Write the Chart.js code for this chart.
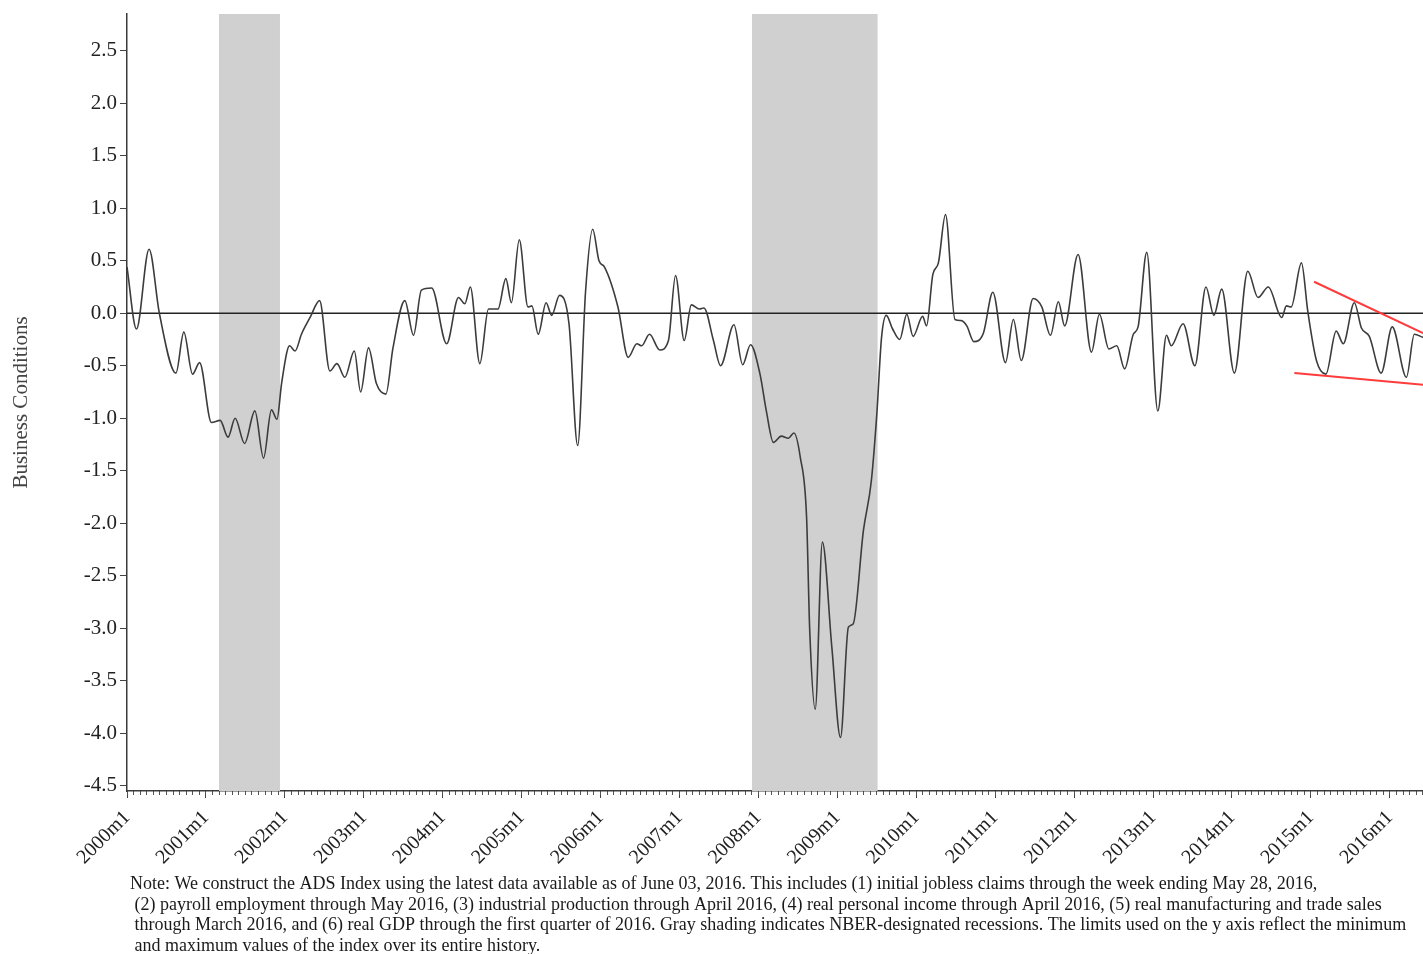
<!DOCTYPE html>
<html>
<head>
<meta charset="utf-8">
<title>ADS Business Conditions Index</title>
<script src="https://cdn.jsdelivr.net/npm/chart.js@4.4.1/dist/chart.umd.min.js"></script>
<style>
  html, body { margin: 0; padding: 0; background: #ffffff; }
  canvas { display: block; }
</style>
</head>
<body>
<canvas id="adsChart" width="1423" height="954"></canvas>
<script>
// ADS index readings (fractional year, index value)
const adsDates = [
  2000.00, 2000.12, 2000.28, 2000.41, 2000.62, 2000.72, 2000.83, 2000.92,
  2001.07, 2001.18, 2001.28, 2001.37, 2001.49, 2001.62, 2001.73, 2001.83, 2001.90, 2001.96,
  2002.06, 2002.13, 2002.21, 2002.32, 2002.44, 2002.57, 2002.66, 2002.76, 2002.88, 2002.96,
  2003.06, 2003.16, 2003.28, 2003.37, 2003.52, 2003.63, 2003.73, 2003.86,
  2004.05, 2004.20, 2004.28, 2004.35, 2004.47, 2004.58, 2004.70, 2004.80, 2004.87, 2004.97,
  2005.08, 2005.13, 2005.21, 2005.31, 2005.38, 2005.48, 2005.60, 2005.71, 2005.81, 2005.90, 2005.98,
  2006.05, 2006.22, 2006.35, 2006.46, 2006.52, 2006.62, 2006.75, 2006.86, 2006.95,
  2007.06, 2007.15, 2007.25, 2007.31, 2007.43, 2007.52, 2007.69, 2007.80, 2007.90,
  2008.02, 2008.10, 2008.19, 2008.29, 2008.38, 2008.45, 2008.53, 2008.61, 2008.65, 2008.72, 2008.81, 2008.93,
  2009.04, 2009.14, 2009.20, 2009.33, 2009.43, 2009.50, 2009.56, 2009.62, 2009.70, 2009.79, 2009.88, 2009.96,
  2010.08, 2010.13, 2010.21, 2010.28, 2010.37, 2010.49, 2010.57, 2010.64, 2010.73, 2010.85, 2010.97,
  2011.13, 2011.23, 2011.33, 2011.48, 2011.59, 2011.70, 2011.80, 2011.88,
  2012.05, 2012.22, 2012.32, 2012.44, 2012.54, 2012.64, 2012.75, 2012.81, 2012.92,
  2013.06, 2013.17, 2013.23, 2013.38, 2013.53, 2013.67, 2013.77, 2013.87,
  2014.03, 2014.20, 2014.33, 2014.46, 2014.63, 2014.69, 2014.75, 2014.88, 2014.96,
  2015.07, 2015.19, 2015.32, 2015.41, 2015.55, 2015.64, 2015.74, 2015.89,
  2016.03, 2016.21, 2016.31, 2016.42
];
const adsValues = [
  0.44, -0.15, 0.61, 0.00, -0.57, -0.18, -0.58, -0.47,
  -1.04, -1.02, -1.18, -1.00, -1.24, -0.93, -1.38, -0.92, -1.01, -0.66,
  -0.31, -0.36, -0.20, -0.04, 0.12, -0.55, -0.48, -0.61, -0.36, -0.75,
  -0.33, -0.67, -0.77, -0.33, 0.12, -0.21, 0.22, 0.24,
  -0.29, 0.15, 0.09, 0.25, -0.48, 0.04, 0.04, 0.33, 0.10, 0.70,
  0.06, 0.07, -0.20, 0.10, -0.02, 0.17, -0.10, -1.26, 0.21, 0.80, 0.50,
  0.44, 0.06, -0.42, -0.29, -0.31, -0.20, -0.35, -0.26, 0.36,
  -0.26, 0.08, 0.04, 0.05, -0.26, -0.50, -0.11, -0.49, -0.30,
  -0.58, -0.93, -1.23, -1.17, -1.19, -1.14, -1.37, -1.94, -3.02, -3.77, -2.18, -3.18,
  -4.04, -2.99, -2.96, -2.07, -1.60, -0.96, -0.23, -0.02, -0.15, -0.25, -0.01, -0.22,
  -0.03, -0.12, 0.37, 0.48, 0.94, -0.06, -0.07, -0.12, -0.27, -0.19, 0.20,
  -0.47, -0.06, -0.45, 0.14, 0.06, -0.21, 0.11, -0.12,
  0.56, -0.37, -0.01, -0.34, -0.31, -0.53, -0.20, -0.13, 0.58,
  -0.93, -0.21, -0.31, -0.10, -0.50, 0.25, -0.02, 0.23,
  -0.57, 0.40, 0.15, 0.25, -0.04, 0.07, 0.06, 0.48, 0.02,
  -0.45, -0.58, -0.17, -0.29, 0.10, -0.14, -0.22, -0.57,
  -0.13, -0.61, -0.20, -0.23
];

// NBER recession spans (fractional years)
const recessionStarts = [2001.165, 2007.916];
const recessionEnds   = [2001.938, 2009.512];

// Trend lines over the 2015-2016 range: [start, end] for x and y
const upperTrendX = [2015.04, 2016.42];
const upperTrendY = [0.30, -0.19];
const lowerTrendX = [2014.79, 2016.42];
const lowerTrendY = [-0.57, -0.68];

// Axis ranges and tick labels
const xMin = 2000;
const xMax = 2016.42;
const yMin = -4.55;
const yMax = 2.85;
const yearTicks = [2000, 2001, 2002, 2003, 2004, 2005, 2006, 2007, 2008,
                   2009, 2010, 2011, 2012, 2013, 2014, 2015, 2016];
const yTickValues = [-4.5, -4.0, -3.5, -3.0, -2.5, -2.0, -1.5, -1.0, -0.5,
                     0.0, 0.5, 1.0, 1.5, 2.0, 2.5];
const yAxisTitle = 'Business Conditions';
const noteLines = [
  'Note: We construct the ADS Index using the latest data available as of June 03, 2016. This includes (1) initial jobless claims through the week ending May 28, 2016,',
  ' (2) payroll employment through May 2016, (3) industrial production through April 2016, (4) real personal income through April 2016, (5) real manufacturing and trade sales',
  ' through March 2016, and (6) real GDP through the first quarter of 2016. Gray shading indicates NBER-designated recessions. The limits used on the y axis reflect the minimum',
  ' and maximum values of the index over its entire history.'
];

const SERIF = '"Liberation Serif", "Times New Roman", Times, serif';

const adsPoints = adsDates.map((d, i) => ({ x: d, y: adsValues[i] }));

const recessionSets = recessionStarts.map((s, i) => ({
  label: 'recession',
  data: [{ x: s, y: yMax }, { x: recessionEnds[i], y: yMax }],
  borderWidth: 0,
  borderColor: 'rgba(0,0,0,0)',
  backgroundColor: '#d0d0d0',
  fill: 'start',
  pointRadius: 0,
  tension: 0,
  order: 3
}));

const zeroLine = {
  label: 'zero',
  data: [{ x: xMin, y: 0 }, { x: xMax, y: 0 }],
  borderColor: '#222222',
  borderWidth: 1.5,
  pointRadius: 0,
  fill: false,
  tension: 0,
  order: 2
};

const adsLine = {
  label: 'ADS Index',
  data: adsPoints,
  borderColor: '#3c3c3c',
  borderWidth: 1.6,
  pointRadius: 0,
  fill: false,
  cubicInterpolationMode: 'monotone',
  order: 1
};

const trendSet = (xs, ys) => ({
  label: 'trend',
  data: xs.map((x, i) => ({ x: x, y: ys[i] })),
  borderColor: '#ff3b3b',
  borderWidth: 2,
  pointRadius: 0,
  fill: false,
  tension: 0,
  order: 0
});

// Footnote under the axis
const notePlugin = {
  id: 'noteText',
  afterDraw(chart) {
    const { ctx, chartArea } = chart;
    ctx.save();
    ctx.font = '18px ' + SERIF;
    ctx.fillStyle = '#1a1a1a';
    ctx.textAlign = 'left';
    ctx.textBaseline = 'alphabetic';
    noteLines.forEach((line, i) => {
      ctx.fillText(line, chartArea.left + 3, chartArea.bottom + 98 + i * 20.7);
    });
    ctx.restore();
  }
};

new Chart(document.getElementById('adsChart'), {
  type: 'line',
  data: {
    datasets: [trendSet(upperTrendX, upperTrendY), trendSet(lowerTrendX, lowerTrendY),
               adsLine, zeroLine, ...recessionSets]
  },
  options: {
    responsive: false,
    animation: false,
    devicePixelRatio: 1,
    layout: { padding: { left: 0, right: 0, top: 14, bottom: 0 } },
    plugins: {
      legend: { display: false },
      tooltip: { enabled: false },
      title: { display: false }
    },
    scales: {
      x: {
        type: 'linear',
        position: 'bottom',
        weight: 1,
        min: xMin,
        max: xMax,
        afterBuildTicks: (scale) => { scale.ticks = yearTicks.map(v => ({ value: v })); },
        afterFit: (scale) => { scale.height = 163; scale.paddingLeft = 0; scale.paddingRight = 0; },
        border: { display: true, color: '#3a3a3a', width: 1.5 },
        grid: { drawOnChartArea: false, drawTicks: true, tickLength: 7, tickColor: '#444', tickWidth: 1 },
        ticks: {
          autoSkip: false,
          minRotation: 45,
          maxRotation: 45,
          padding: 8,
          color: '#222',
          font: { family: SERIF, size: 20 },
          callback: (v) => v + 'm1'
        }
      },
      xMonths: {
        type: 'linear',
        position: 'bottom',
        weight: 0,
        min: xMin,
        max: xMax,
        afterBuildTicks: (scale) => {
          const t = [];
          for (let y = yearTicks[0]; y <= yearTicks[yearTicks.length - 1] + 1; y++) {
            for (let m = 0; m < 12; m++) {
              const v = y + m / 12;
              if (v <= xMax) t.push({ value: v });
            }
          }
          scale.ticks = t;
        },
        afterFit: (scale) => { scale.height = 0; scale.paddingLeft = 0; scale.paddingRight = 0; },
        border: { display: false },
        grid: { drawOnChartArea: false, drawTicks: true, tickLength: 4, tickColor: '#555', tickWidth: 1 },
        ticks: { display: false, autoSkip: false }
      },
      y: {
        type: 'linear',
        position: 'left',
        min: yMin,
        max: yMax,
        afterBuildTicks: (scale) => { scale.ticks = yTickValues.map(v => ({ value: v })); },
        afterFit: (scale) => { scale.width = 127; scale.paddingTop = 0; scale.paddingBottom = 0; },
        border: { display: true, color: '#3a3a3a', width: 1.5 },
        grid: { drawOnChartArea: false, drawTicks: true, tickLength: 7, tickColor: '#444', tickWidth: 1 },
        ticks: {
          padding: 3,
          color: '#222',
          font: { family: SERIF, size: 21 },
          callback: (v) => Number(v).toFixed(1)
        },
        title: {
          display: true,
          text: yAxisTitle,
          color: '#444',
          font: { family: SERIF, size: 21 },
          padding: { top: 9, bottom: 0 }
        }
      }
    }
  },
  plugins: [notePlugin]
});
</script>
</body>
</html>
